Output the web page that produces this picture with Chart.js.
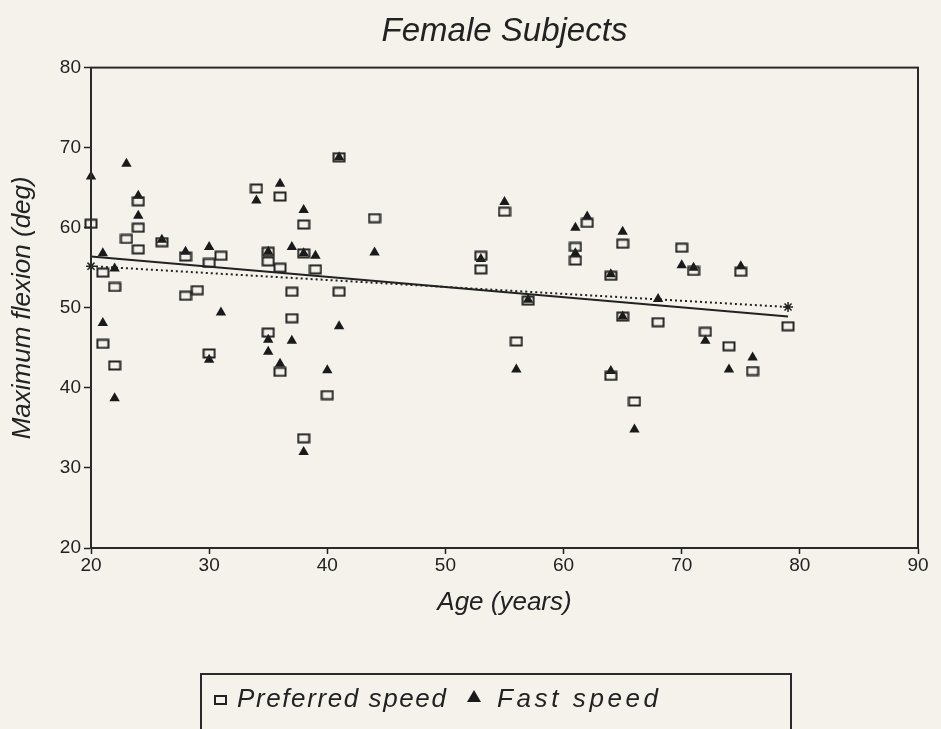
<!DOCTYPE html>
<html>
<head>
<meta charset="utf-8">
<script src="https://cdn.jsdelivr.net/npm/chart.js@4.4.1/dist/chart.umd.min.js"></script>
<style>
  body { margin: 0; background: #f5f2ec; }
  #wrap { position: relative; width: 941px; height: 729px; overflow: hidden; }
  #legendBox {
    position: absolute; left: 200px; top: 673px; width: 592px; height: 80px;
    border: 2px solid #2a2a2a; box-sizing: border-box;
    font-family: "Liberation Sans", Arial, sans-serif; font-style: italic;
    font-size: 26px; color: #222;
  }
  #legendBox .item { position: absolute; top: 8px; }
  .sq { position: absolute; width: 9px; height: 6px; border: 2px solid #222; top: 20px; }
  .tri { position: absolute; width: 0; height: 0; top: 15px;
         border-left: 7px solid transparent; border-right: 7px solid transparent;
         border-bottom: 12px solid #1a1a1a; }
</style>
</head>
<body>
<div id="wrap">
  <canvas id="flexChart" width="941" height="729"></canvas>
  <div id="legendBox">
    <span class="sq" style="left:12px"></span>
    <span class="item" style="left:35px; letter-spacing:1.6px">Preferred speed</span>
    <span class="tri" style="left:265px"></span>
    <span class="item" style="left:295px; letter-spacing:3.6px">Fast speed</span>
  </div>
</div>
<script>
// preferred speed (open squares)
var prefAge  = [20, 21, 21, 22, 22, 23, 24, 24, 24, 26, 28, 28, 29, 30, 30, 31, 34, 35, 35, 35,
                36, 36, 36, 37, 37, 38, 38, 38, 39, 40, 41, 41, 44, 53, 53, 55, 56, 57, 61, 61,
                62, 64, 64, 65, 65, 66, 68, 70, 71, 72, 74, 75, 76, 79];
var prefFlex = [60.5, 54.4, 45.5, 52.6, 42.8, 58.6, 63.3, 60.0, 57.3, 58.2, 56.4, 51.5, 52.2, 55.6, 44.3, 56.5, 64.9, 57.0, 55.8, 46.9,
                63.9, 55.0, 42.0, 52.0, 48.7, 60.4, 56.8, 33.7, 54.8, 39.1, 68.8, 52.0, 61.2, 56.5, 54.8, 62.0, 45.8, 50.9, 57.6, 55.9,
                60.6, 54.0, 41.5, 58.0, 48.9, 38.3, 48.2, 57.5, 54.6, 47.0, 45.2, 54.5, 42.1, 47.7];

// fast speed (filled triangles)
var fastAge  = [20, 21, 21, 22, 22, 23, 24, 24, 26, 28, 30, 30, 31, 34, 35, 35, 35, 36, 36, 37,
                37, 38, 38, 38, 39, 40, 41, 41, 44, 53, 55, 56, 57, 61, 61, 62, 64, 64, 65, 65,
                66, 68, 70, 71, 72, 74, 75, 76];
var fastFlex = [66.4, 56.8, 48.1, 54.9, 38.7, 68.0, 64.0, 61.5, 58.5, 57.0, 57.6, 43.5, 49.4, 63.4, 57.0, 46.0, 44.5, 65.5, 43.0, 57.6,
                45.9, 62.2, 56.8, 32.0, 56.5, 42.2, 68.8, 47.7, 56.9, 56.1, 63.2, 42.3, 51.0, 60.0, 56.8, 61.4, 54.2, 42.1, 59.5, 48.9,
                34.8, 51.1, 55.3, 55.0, 45.9, 42.3, 55.2, 43.8];

// regression lines
var fitAge  = [20, 79];
var prefFit = [56.4, 48.9];
var fastFit = [55.2, 50.1];

var xTicks = [20, 30, 40, 50, 60, 70, 80, 90];
var yTicks = [20, 30, 40, 50, 60, 70, 80];

function pts(xs, ys) {
  return xs.map(function (x, i) { return { x: x, y: ys[i] }; });
}

// open rectangle marker
var sqMark = document.createElement('canvas');
sqMark.width = 14; sqMark.height = 11;
var sc = sqMark.getContext('2d');
sc.strokeStyle = '#222';
sc.lineWidth = 2;
sc.strokeRect(1.5, 1.5, 11, 8);

var ink = '#222';
var tickFont = { family: '"Liberation Sans Narrow", "Liberation Sans", Arial, sans-serif', size: 19 };
var labelFont = { family: '"Liberation Sans", Arial, sans-serif', size: 26, style: 'italic' };

var framePlugin = {
  id: 'frame',
  afterDatasetsDraw: function (chart) {
    var a = chart.chartArea, c = chart.ctx;
    c.save();
    c.strokeStyle = '#2a2a2a';
    c.lineWidth = 2;
    c.strokeRect(a.left, a.top, a.right - a.left, a.bottom - a.top);
    c.restore();
  }
};

var ctx = document.getElementById('flexChart').getContext('2d');
var chart = new Chart(ctx, {
  type: 'scatter',
  data: {
    datasets: [{
      label: 'Preferred speed',
      data: pts(prefAge, prefFlex),
      pointStyle: sqMark,
      clip: false,
      order: 1
    }, {
      label: 'Fast speed',
      data: pts(fastAge, fastFlex),
      pointStyle: 'triangle',
      pointRadius: 6,
      backgroundColor: '#1a1a1a',
      borderColor: '#1a1a1a',
      borderWidth: 0,
      clip: false,
      order: 2
    }, {
      label: 'Preferred fit',
      data: pts(fitAge, prefFit),
      showLine: true,
      borderColor: ink,
      borderWidth: 2,
      pointRadius: 0,
      clip: false,
      order: 3
    }, {
      label: 'Fast fit',
      data: pts(fitAge, fastFit),
      showLine: true,
      borderColor: ink,
      borderWidth: 2,
      borderDash: [2, 3],
      pointStyle: 'star',
      pointRadius: 5,
      pointBorderWidth: 1.5,
      pointBorderColor: ink,
      clip: false,
      order: 4
    }]
  },
  options: {
    responsive: false,
    animation: false,
    devicePixelRatio: 1,
    layout: { padding: { left: 0, right: 23, top: 0, bottom: 0 } },
    plugins: {
      legend: { display: false },
      tooltip: { enabled: false },
      title: {
        display: true,
        text: 'Female Subjects',
        fullSize: false,
        color: ink,
        font: { family: '"Liberation Sans", Arial, sans-serif', size: 33, style: 'italic', weight: 'normal' },
        padding: { top: 12, bottom: 16 }
      }
    },
    scales: {
      x: {
        type: 'linear',
        min: 20, max: 90,
        afterBuildTicks: function (s) { s.ticks = xTicks.map(function (v) { return { value: v }; }); },
        afterFit: function (s) { s.height = 181; },
        ticks: { color: ink, font: tickFont, padding: 0, maxRotation: 0 },
        grid: { drawOnChartArea: false, tickLength: 6, color: ink, tickWidth: 1.5 },
        border: { color: '#2a2a2a', width: 2 },
        title: { display: true, text: 'Age (years)', color: ink, font: labelFont, padding: { top: 4, bottom: 111 } }
      },
      y: {
        min: 20, max: 80,
        afterBuildTicks: function (s) { s.ticks = yTicks.map(function (v) { return { value: v }; }); },
        afterFit: function (s) { s.width = 91; },
        ticks: { color: ink, font: tickFont, padding: 3 },
        grid: { drawOnChartArea: false, tickLength: 7, color: ink, tickWidth: 1.5 },
        border: { color: '#2a2a2a', width: 2 },
        title: { display: true, text: 'Maximum flexion (deg)', color: ink, font: labelFont, padding: { top: 7, bottom: 0 } }
      }
    }
  },
  plugins: [framePlugin]
});
</script>
</body>
</html>
